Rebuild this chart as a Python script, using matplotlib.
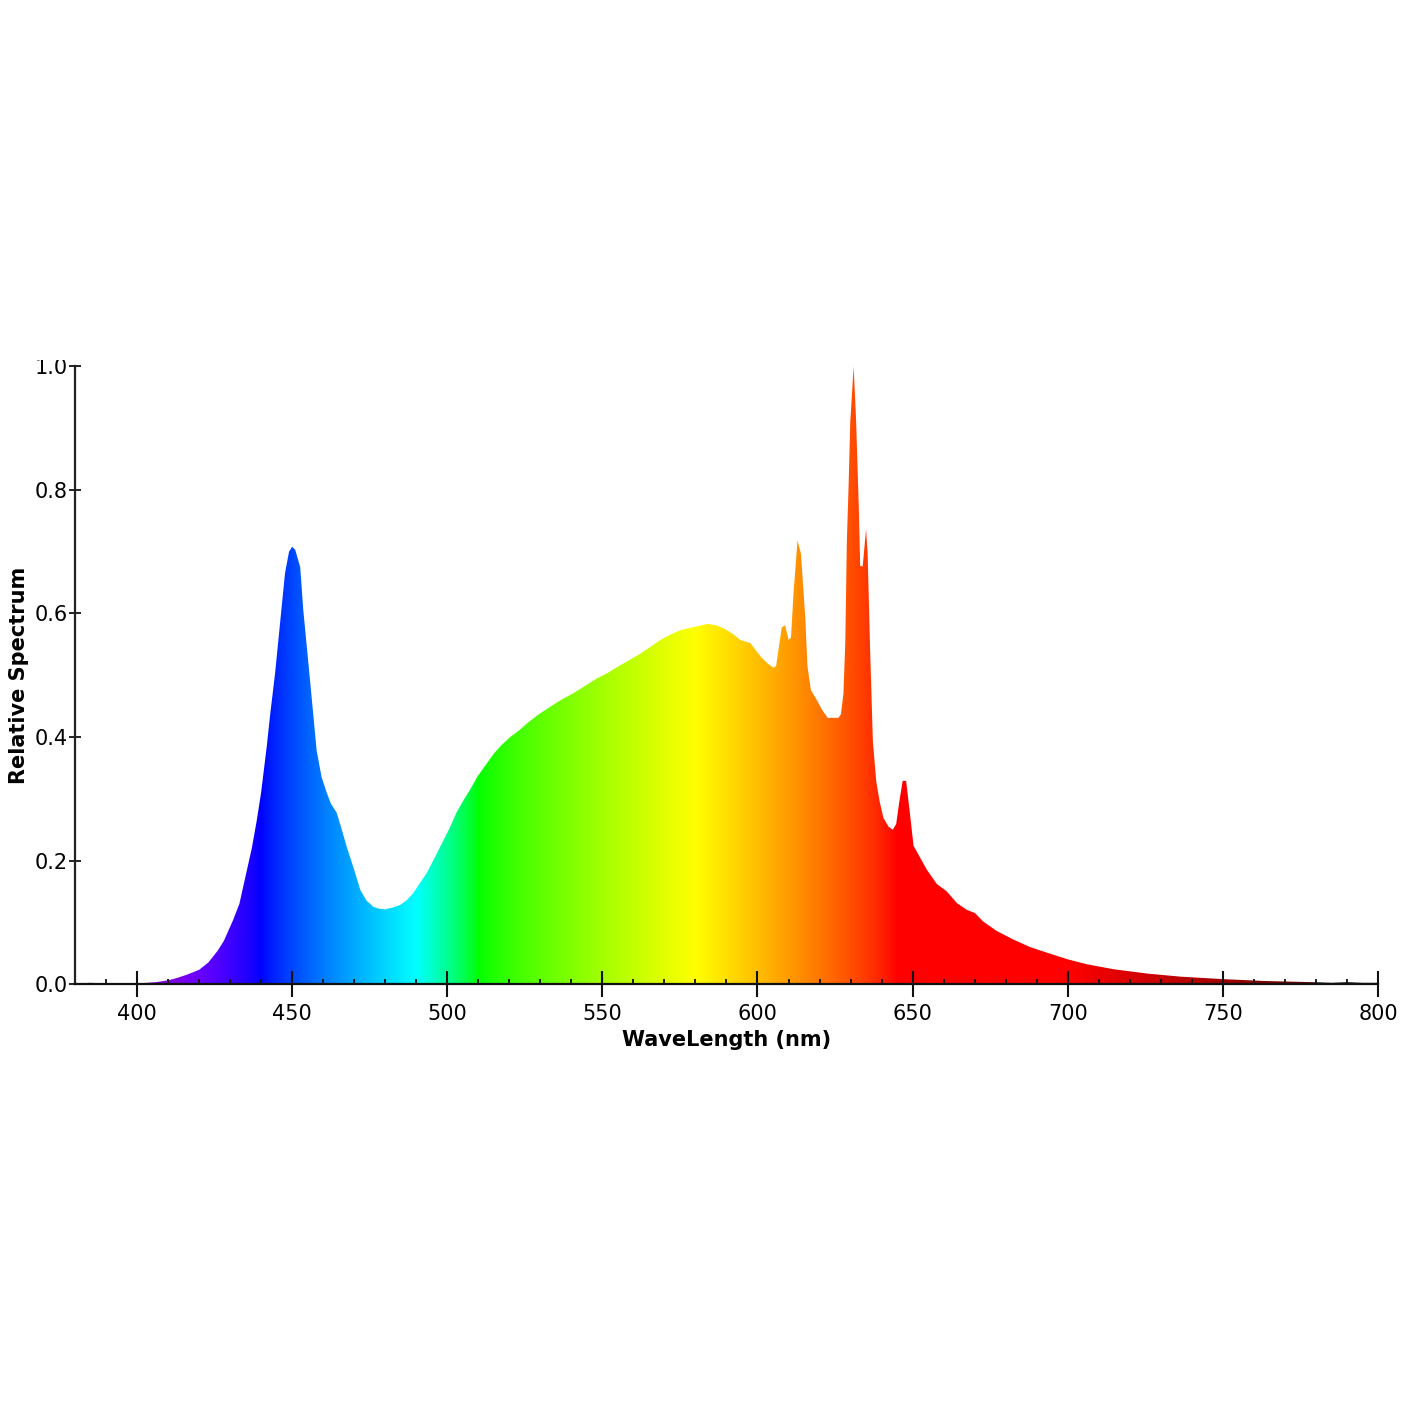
import numpy as np
import matplotlib
matplotlib.use("Agg")
import matplotlib.pyplot as plt
from matplotlib.patches import Polygon
from matplotlib.transforms import Bbox, TransformedBbox
from matplotlib.ticker import MultipleLocator

# spectrum (wavelength in nm, relative value)
wavelength = [380, 385, 390, 395, 400, 403, 406, 410, 413, 416, 420, 423, 426, 428,
              431, 433, 435.4, 437, 438.6, 440, 441.8, 443, 444.5, 446.1, 447.7, 449,
              450, 451, 452.6, 453.6, 455.8, 457.9, 459.5, 461.2, 462.5, 464.4, 466,
              467.6, 470, 472, 474, 476.2, 478, 480, 482.5, 484.8, 487, 489, 491,
              493.4, 496, 497.7, 501, 503, 505.3, 507.5, 509.6, 512, 515, 517.5,
              520.3, 523, 525.7, 529, 533.2, 537, 540.7, 544.5, 548.3, 551.5, 554.7,
              558.5, 562.3, 565.5, 568.7, 572, 575.2, 579.5, 583.8, 586.5, 589.1, 592,
              594.5, 597.7, 599.5, 601.4, 603.5, 605.2, 606, 607.8, 608.9, 610, 610.8,
              611.6, 612.9, 614, 615.4, 616.1, 617.2, 619.1, 620.8, 622.6, 624.5,
              626.1, 626.9, 627.7, 628.3, 628.8, 629.4, 629.9, 631, 631.8, 632.6,
              633.1, 633.9, 635, 635.5, 636.3, 637.2, 638.3, 639.4, 640.6, 642.2,
              643.6, 644.7, 645.7, 646.8, 647.9, 649, 650.3, 651.4, 654.6, 657.8, 661,
              664.3, 667.5, 670.1, 672.8, 677.1, 682.5, 687.8, 693.2, 700, 706.2,
              714.8, 725.6, 736.3, 750, 763.2, 779.4, 785, 790, 795, 800]
spectrum = [0.001, 0.002, 0.001, 0.001, 0.001, 0.002, 0.003, 0.006, 0.010, 0.015,
            0.023, 0.035, 0.054, 0.070, 0.104, 0.130, 0.184, 0.220, 0.265, 0.310,
            0.384, 0.440, 0.503, 0.584, 0.665, 0.700, 0.708, 0.703, 0.675, 0.605,
            0.490, 0.378, 0.335, 0.309, 0.292, 0.277, 0.250, 0.222, 0.185, 0.152,
            0.135, 0.125, 0.122, 0.121, 0.124, 0.128, 0.136, 0.147, 0.162, 0.180,
            0.205, 0.222, 0.255, 0.278, 0.298, 0.316, 0.335, 0.352, 0.373, 0.387,
            0.400, 0.410, 0.422, 0.435, 0.449, 0.461, 0.471, 0.483, 0.495, 0.503,
            0.513, 0.524, 0.535, 0.546, 0.557, 0.566, 0.573, 0.578, 0.583, 0.581,
            0.576, 0.567, 0.557, 0.552, 0.540, 0.528, 0.518, 0.512, 0.515, 0.577,
            0.581, 0.557, 0.561, 0.632, 0.718, 0.697, 0.593, 0.515, 0.476, 0.460,
            0.444, 0.431, 0.431, 0.431, 0.437, 0.470, 0.554, 0.716, 0.813, 0.910,
            1.000, 0.910, 0.780, 0.677, 0.676, 0.736, 0.697, 0.541, 0.392, 0.327,
            0.295, 0.269, 0.255, 0.250, 0.259, 0.295, 0.329, 0.329, 0.282, 0.224,
            0.214, 0.185, 0.162, 0.150, 0.131, 0.120, 0.115, 0.101, 0.086, 0.072,
            0.060, 0.051, 0.040, 0.032, 0.024, 0.017, 0.012, 0.008, 0.005, 0.003,
            0.002, 0.003, 0.002, 0.002]

x_ticks = [400, 450, 500, 550, 600, 650, 700, 750, 800]
y_ticks = [0.0, 0.2, 0.4, 0.6, 0.8, 1.0]


def wl_to_rgb(w, gamma=0.8):
    # usual visible-spectrum approximation
    r = g = b = 0.0
    if 380 <= w < 440:
        r, b = -(w - 440) / 60, 1.0
    elif 440 <= w < 490:
        g, b = (w - 440) / 50, 1.0
    elif 490 <= w < 510:
        g, b = 1.0, -(w - 510) / 20
    elif 510 <= w < 580:
        r, g = (w - 510) / 70, 1.0
    elif 580 <= w < 645:
        r, g = 1.0, -(w - 645) / 65
    elif 645 <= w <= 780:
        r = 1.0
    if 380 <= w < 420:
        f = 0.3 + 0.7 * (w - 380) / 40
    elif 420 <= w <= 700:
        f = 1.0
    elif 700 < w <= 780:
        f = 0.3 + 0.7 * (780 - w) / 80
    else:
        f = 0.0
    return [(c * f) ** gamma if c > 0 else 0.0 for c in (r, g, b)]


fig = plt.figure(figsize=(14.2, 14.2), dpi=100)
ax = fig.add_axes([0.0528, 0.307, 0.9176, 0.435])

grid = np.arange(380, 800.05, 0.1)
colors = np.array([wl_to_rgb(w) for w in grid])
im = ax.imshow(colors[np.newaxis, :, :], extent=[380, 800, 0, 1],
               aspect="auto", origin="lower", interpolation="bilinear")

verts = [(wavelength[0], 0)] + list(zip(wavelength, spectrum)) + [(wavelength[-1], 0)]
shape = Polygon(verts, closed=True, facecolor="none", edgecolor="none",
                transform=ax.transData)
ax.add_patch(shape)
im.set_clip_path(shape)

ax.set_xlim(380, 800)
ax.set_ylim(0, 1.0)

for s in ["top", "right"]:
    ax.spines[s].set_visible(False)
ax.spines["left"].set_color("#222222")
ax.spines["bottom"].set_color("#111111")
ax.spines["left"].set_linewidth(1.6)
ax.spines["bottom"].set_linewidth(1.6)

ax.set_xticks(x_ticks)
ax.set_yticks(y_ticks)
ax.set_yticklabels(["0.0", "0.2", "0.4", "0.6", "0.8", "1.0"])
ax.xaxis.set_minor_locator(MultipleLocator(10))
ax.tick_params(axis="x", which="major", direction="inout", length=19, width=1.5,
               labelsize=15, pad=4.5, color="#111111")
ax.tick_params(axis="x", which="minor", direction="in", length=3.8, width=1.3,
               color="#111111")
ax.tick_params(axis="y", which="major", direction="inout", length=8.6, width=1.4,
               labelsize=15, pad=1, color="#222222")

ax.set_xlabel("WaveLength (nm)", fontsize=15, fontweight="bold", labelpad=5)
ax.set_ylabel("Relative Spectrum", fontsize=15, fontweight="bold", labelpad=4)

# top tick label is cut at the plot's top edge in the original
clip = TransformedBbox(Bbox([[-1, -1], [1, 1.0097]]), ax.transAxes)
for tick in ax.yaxis.get_major_ticks():
    tick.label1.set_clip_on(True)
    tick.label1.set_clip_box(clip)

fig.savefig("out.png", dpi=100)
